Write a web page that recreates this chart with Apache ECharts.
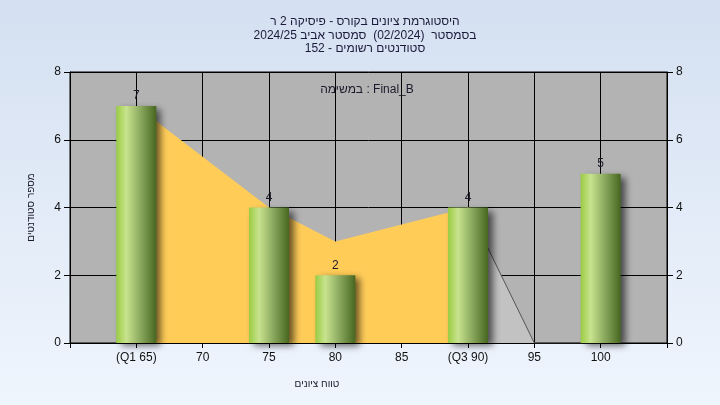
<!DOCTYPE html>
<html>
<head>
<meta charset="utf-8">
<script src="https://cdn.jsdelivr.net/npm/echarts@6/dist/echarts.min.js"></script>
<style>
html,body{margin:0;padding:0;}
#chart{width:720px;height:405px;direction:rtl;}
</style>
</head>
<body>
<div id="chart" dir="rtl"></div>
<script>
const categories = ['', '(Q1 65)', '70', '75', '80', '85', '(Q3 90)', '95', '100', ''];
const barValues = [null, 7, null, 4, 2, null, 4, null, 5, null];
const curveValues = [null, 7, null, 4, 3, null, 4, 0, 0, null];
const q3Index = 6;
const titleLines = ['היסטוגרמת ציונים בקורס - פיסיקה 2 ר', 'בסמסטר  (02/2024)  סמסטר אביב 2024/25', 'סטודנטים רשומים - 152'];
const legendText = 'Final_B : במשימה';
const xName = 'טווח ציונים';
const yName = 'מספר סטודנטים';

const yellowPart = curveValues.map((v, i) => i <= q3Index ? v : null);
const greyPart = curveValues.map((v, i) => i >= q3Index ? v : null);

const FONT = 'Liberation Sans';
const chart = echarts.init(document.getElementById('chart'));
chart.setOption({
  animation: false,
  backgroundColor: {
    type: 'linear', x: 0, y: 0, x2: 0, y2: 1,
    colorStops: [{offset: 0, color: '#d4e0f1'}, {offset: 1, color: '#eff5fd'}]
  },
  title: [
    {text: titleLines.join('\n'), left: 360, top: 10, textAlign: 'center',
     textStyle: {fontFamily: FONT, fontSize: 12, fontWeight: 'normal', color: '#1a1a3a', lineHeight: 13.5}},
    {text: legendText, left: 362, top: 79, textAlign: 'center',
     textStyle: {fontFamily: FONT, fontSize: 12, fontWeight: 'normal', color: '#1a1a2a'}},
    {text: xName, left: 312, top: 374, textAlign: 'center',
     textStyle: {fontFamily: FONT, fontSize: 10, fontWeight: 'normal', color: '#1a1a2a'}}
  ],
  grid: {left: 70, right: 53, top: 72, bottom: 62, show: true,
         backgroundColor: '#b3b3b3', borderColor: '#000', borderWidth: 1},
  xAxis: {
    type: 'category', data: categories, boundaryGap: false,
    axisLine: {lineStyle: {color: '#000'}},
    axisTick: {show: true, length: 5, alignWithLabel: true, lineStyle: {color: '#000'}},
    axisLabel: {color: '#111', fontFamily: FONT, fontSize: 12, margin: 9, interval: 0},
    splitLine: {show: true, lineStyle: {color: '#000', width: 1}}
  },
  yAxis: [
    {type: 'value', min: 0, max: 8, interval: 2, position: 'left',
     name: yName, nameLocation: 'middle', nameGap: 34, nameRotate: 90,
     nameTextStyle: {fontFamily: FONT, fontSize: 10, color: '#1a1a2a'},
     axisLine: {show: true, lineStyle: {color: '#000'}},
     axisTick: {show: true, length: 6, lineStyle: {color: '#000'}},
     axisLabel: {color: '#111', fontFamily: FONT, fontSize: 12, margin: 9},
     splitLine: {show: true, lineStyle: {color: '#000', width: 1}}},
    {type: 'value', min: 0, max: 8, interval: 2, position: 'right',
     axisLine: {show: true, lineStyle: {color: '#000'}},
     axisTick: {show: true, length: 6, lineStyle: {color: '#000'}},
     axisLabel: {color: '#111', fontFamily: FONT, fontSize: 12, margin: 9},
     splitLine: {show: false}}
  ],
  series: [
    {type: 'line', data: yellowPart, connectNulls: true, symbol: 'none', z: 1,
     lineStyle: {width: 0, color: '#ffcc58'}, areaStyle: {color: '#ffcc58', opacity: 1}},
    {type: 'line', data: greyPart, connectNulls: true, symbol: 'none', z: 1,
     lineStyle: {width: 1, color: '#555'}, areaStyle: {color: '#c2c2c2', opacity: 1}},
    {type: 'bar', data: barValues, barWidth: 40, z: 3,
     itemStyle: {
       color: {type: 'linear', x: 0, y: 0, x2: 1, y2: 0,
         colorStops: [{offset: 0, color: '#9acc42'}, {offset: 0.25, color: '#c8e38e'},
                      {offset: 0.55, color: '#94b266'}, {offset: 1, color: '#476620'}]},
       shadowColor: 'rgba(0,0,0,0.6)', shadowBlur: 7, shadowOffsetX: 5, shadowOffsetY: 3
     },
     label: {show: true, position: 'top', distance: 4, color: '#1a1a2a', fontFamily: FONT, fontSize: 12}}
  ]
});
</script>
</body>
</html>
